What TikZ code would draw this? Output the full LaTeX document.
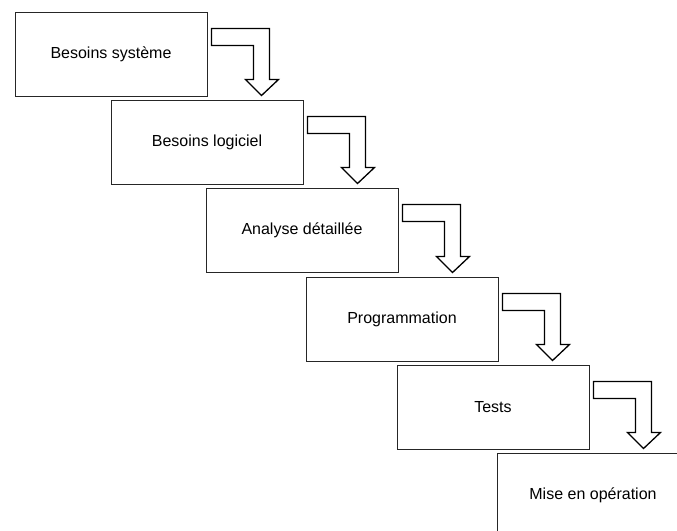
\documentclass[tikz,border=0pt]{standalone}
\usepackage{fontspec}
\setmainfont{Liberation Sans}
\usepackage{tikz}
\usetikzlibrary{calc}

% hollow bent arrow from the right side of one phase to the top of the next
\newcommand{\stepflow}[2]{%
  \draw[flow] let \p1=(#1.north east), \p2=(#2.north) in
    (\x1+4pt,\y1-17pt) -- (\x1+62pt,\y1-17pt) -- (\x1+62pt,\y2+20pt)
    -- (\x1+71pt,\y2+20pt) -- (\x1+54pt,\y2+4pt) -- (\x1+38pt,\y2+20pt)
    -- (\x1+46pt,\y2+20pt) -- (\x1+46pt,\y1-34pt) -- (\x1+4pt,\y1-34pt) -- cycle;}

\begin{document}
\begin{tikzpicture}[line cap=round,line join=miter,x=1pt,y=-1pt]
      \tikzset{phase/.style={draw=black!85,line width=1pt,fill=white,minimum width=192pt,
          minimum height=84pt,inner sep=0pt,font=\fontsize{16}{19}\selectfont},
        flow/.style={draw=black,line width=1.3pt,fill=white}}
      \useasboundingbox (0,0) rectangle (677,530);
      \clip (0,0) rectangle (677,530);
      \node[phase] (sysreq) at (111,54) {Besoins système};
      \node[phase] (softreq) at (207,142) {Besoins logiciel};
      \node[phase] (design) at (302,230) {Analyse détaillée};
      \node[phase] (coding) at (402,319) {Programmation};
      \node[phase] (testing) at (493,407) {Tests};
      \node[phase] (deploy) at (593,495) {Mise en opération};
      \stepflow{sysreq}{softreq}
      \stepflow{softreq}{design}
      \stepflow{design}{coding}
      \stepflow{coding}{testing}
      \stepflow{testing}{deploy}
    \end{tikzpicture}
\end{document}
